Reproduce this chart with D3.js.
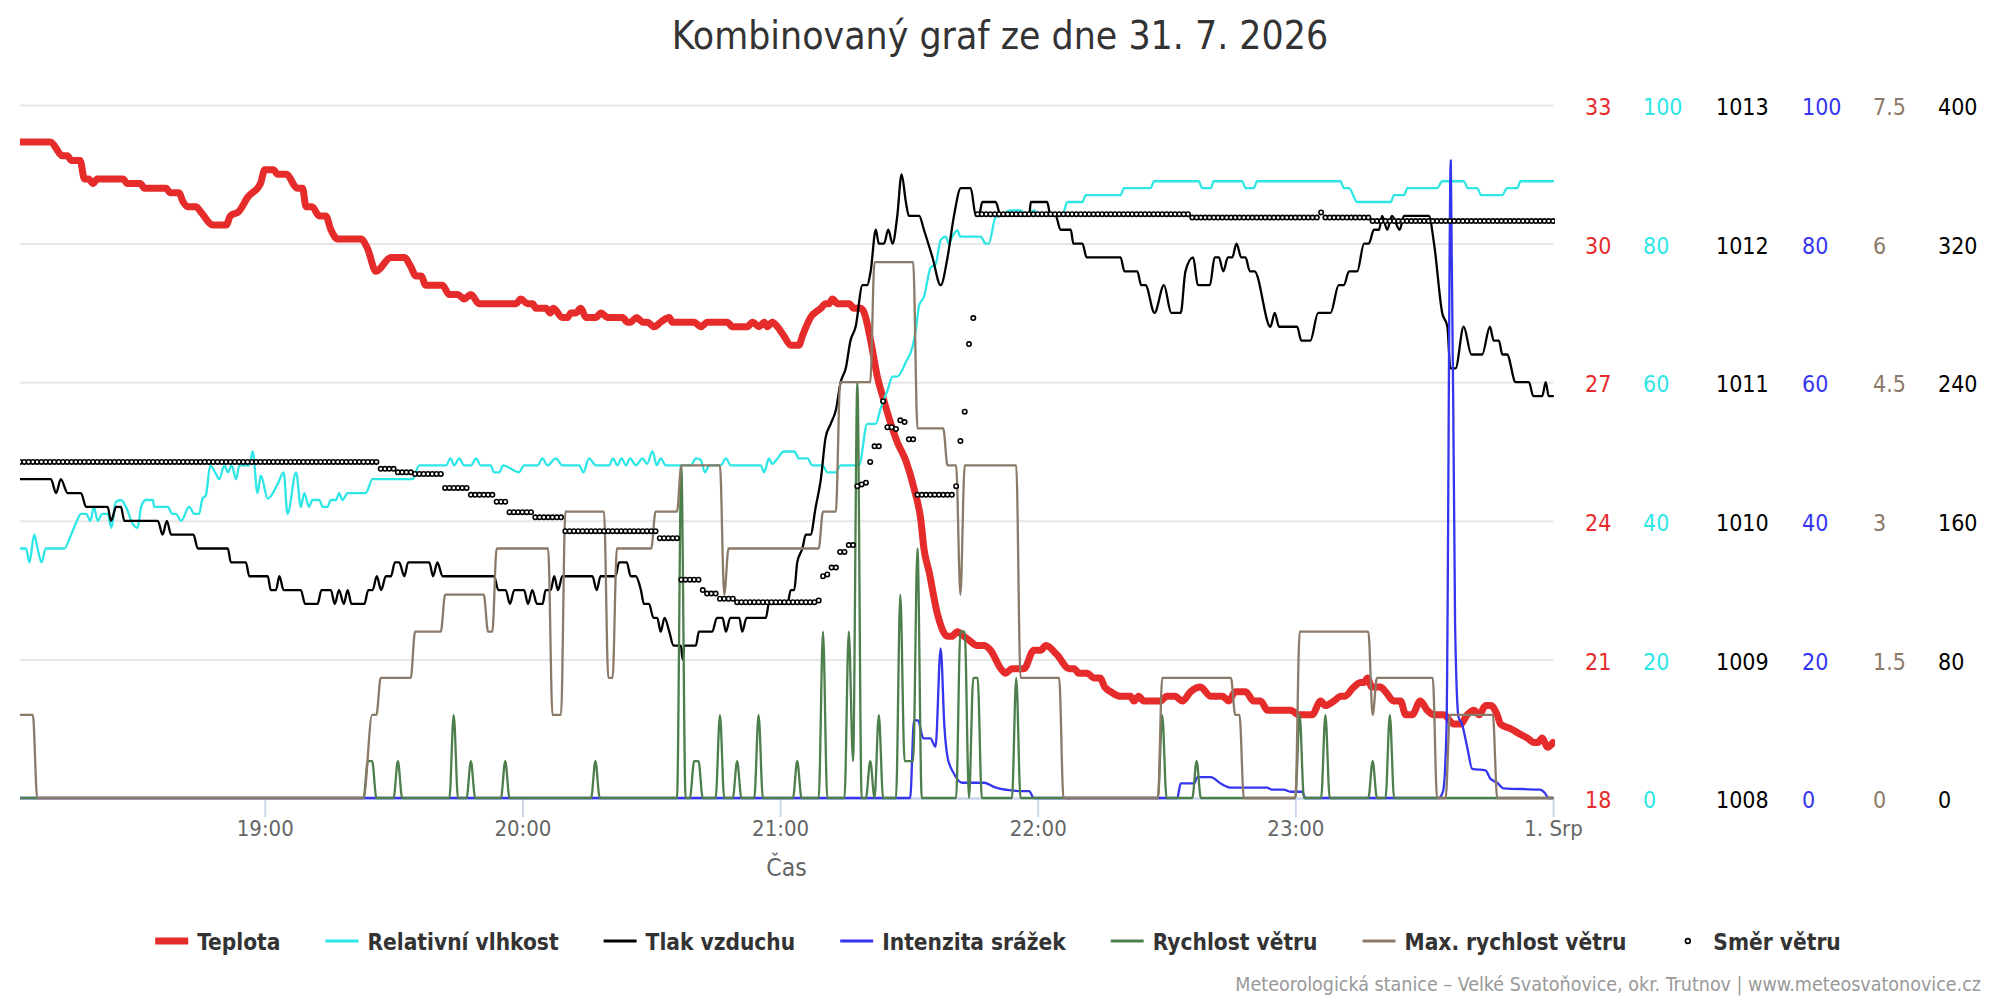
<!DOCTYPE html>
<html>
<head>
<meta charset="utf-8">
<script src="https://cdn.jsdelivr.net/npm/d3@7"></script>
<style>
html,body{margin:0;padding:0;background:#fff;overflow:hidden;}
svg{display:block;font-family:"DejaVu Sans Condensed","DejaVu Sans",sans-serif;font-stretch:condensed;}
</style>
</head>
<body>
<svg id="chart" width="2000" height="1000"></svg>
<script>
// ---------------- DATA (minutes after 18:00 on 31. 7. 2026) ----------------
const titleText = "Kombinovaný graf ze dne 31. 7. 2026";
const xAxisTitle = "Čas";
const creditText = "Meteorologická stanice – Velké Svatoňovice, okr. Trutnov | www.meteosvatonovice.cz";
const nextDayLabel = "1. Srp";
const seriesNames = ["Teplota","Relativní vlhkost","Tlak vzduchu","Intenzita srážek","Rychlost větru","Max. rychlost větru","Směr větru"];

const tempTicks = [18,21,24,27,30,33];
const humTicks = [0,20,40,60,80,100];
const presTicks = [1008,1009,1010,1011,1012,1013];
const rainTicks = [0,20,40,60,80,100];
const windTicks = [0,1.5,3,4.5,6,7.5];
const dirTicks = [0,80,160,240,320,400];

const temperature = [
[3,32.2],[10,32.2],[13,31.9],[14,31.9],[15,31.8],[17,31.8],[18,31.4],[19,31.4],[20,31.3],[21,31.4],[27,31.4],[28,31.3],[31,31.3],[32,31.2],[37,31.2],[38,31.1],[40,31.1],[41,30.9],[42,30.8],[44,30.8],[45,30.7],[48,30.4],[51,30.4],[52,30.6],[54,30.7],[56,31.0],[59,31.3],[60,31.6],[62,31.6],[63,31.5],[65,31.5],[67.6,31.2],[68.8,31.2],[69.6,30.8],[71,30.8],[72.7,30.6],[74.2,30.6],[75.4,30.3],[77,30.1],[82.4,30.1],[83.9,29.9],[85.9,29.4],[89.4,29.7],[92.5,29.7],[94,29.5],[95.2,29.3],[96.4,29.3],[97.5,29.1],[101.4,29.1],[102.9,28.9],[104.9,28.9],[106.4,28.8],[108,28.9],[109.9,28.7],
[118.5,28.7],[119.6,28.8],[121.2,28.7],[122.4,28.7],[123.1,28.6],[125.5,28.6],[126.5,28.5],[127.2,28.6],[129.3,28.4],[130.5,28.4],[131.3,28.5],[132.4,28.5],[133.6,28.6],[134.8,28.4],[137.1,28.4],[138.3,28.5],[139.8,28.4],[143.3,28.4],[144.5,28.3],[145.2,28.3],[146.6,28.4],[148,28.3],[149.1,28.3],[150.7,28.2],[152.2,28.3],[154.2,28.4],[154.9,28.3],[160,28.3],[161.5,28.2],[163.1,28.3],[167.7,28.3],[168.9,28.2],[172.4,28.2],[173.6,28.3],[175.1,28.2],[176.3,28.3],[177,28.2],[178.2,28.3],[179.4,28.2],[180.9,28.0],[182.5,27.8],[184.4,27.8],[185.2,28.0],[187.1,28.4],[189.5,28.6],[190.6,28.7],[191.4,28.7],[192.2,28.8],[193.4,28.7],[196.1,28.7],[197.2,28.6],[198.8,28.6],[199.6,28.5],
[201.1,27.9],[202.7,27.1],[204.2,26.6],[205.8,26.1],[207.3,25.7],[209.3,25.3],[211.2,24.7],[212.8,24.0],[213.5,23.4],[214.7,22.9],[216.6,22.0],[219,21.5],[220,21.5],[221.3,21.6],[222.8,21.5],[224.2,21.4],[225.9,21.3],[227.5,21.3],[229,21.2],[231.4,20.8],[232.5,20.7],[234,20.8],[236.8,20.8],[239.1,21.2],[240.7,21.2],[241.9,21.3],[244.5,21.1],[247.3,20.8],[248.5,20.8],[249.6,20.7],[251.6,20.7],[253,20.6],[254.5,20.6],[255.6,20.4],[257,20.3],[259.3,20.2],[261.6,20.2],[262.4,20.1],[263.5,20.2],[264.7,20.1],[268.6,20.1],[270,20.2],[272,20.2],[273.7,20.1],[275.6,20.3],[277.9,20.4],[280.3,20.2],[283,20.2],[284.5,20.1],[286,20.3],[288.4,20.3],[290.3,20.1],[291.9,20.1],[293.5,19.9],[298.9,19.9],[300.8,19.8],[303.9,19.8],[305.9,20.1],[307,20.0],[309,20.1],[310.6,20.2],[311.4,20.2],[313.6,20.4],[315.2,20.5],[316,20.5],[316.8,20.6],[317.8,20.4],[319.8,20.4],[321,20.3],[322.9,20.1],[324.5,20.1],[325.7,19.8],[327.2,19.8],[329.1,20.1],[330.7,19.9],[332.3,19.8],[334.6,19.8],[336.9,19.6],[338.5,19.6],[340,19.8],[341.6,19.9],[342.8,19.8],[344.3,20.0],[345.5,20.0],[347,19.8],[347.8,19.6],[350.1,19.5],[352,19.4],[354,19.3],[355.6,19.2],[356.4,19.2],[357.5,19.3],[358.7,19.1],[360,19.2]
];

const humidity = [
[3,36],[4.4,36],[5.2,34],[6.3,38],[7.1,36],[8,34],[9,36],[13.3,36],[14.9,38],[16,39.6],[17.2,41],[18.4,41],[19.4,40],[20.2,42],[21.1,40],[22.2,41],[23.4,41],[24.3,39],[25.3,42.7],[26.5,43],[27.7,42],[29.2,39.6],[30.4,39],[31.2,42],[32.3,43],[33.9,43],[34.3,42],[37.4,42],[38.5,41],[39.3,41],[40.5,40],[42.4,42],[43.6,41],[44.7,41],[45.5,43.2],[46.3,43.7],[47.3,48],[48.6,46.8],[49.4,46],[50.6,48],[51.4,47],[52.3,48],[53.3,46],[54.1,48],[55.2,48],[56.4,48],[57.2,50],[58.3,44],[59.1,46.5],[60.7,43.2],[63,45.3],[64.4,47],[65.3,41],[67.3,47],[68.4,42],[69.2,44],[70.3,42],[71.1,43],[72.7,43],[73.5,42],[74.6,42],[75.4,43],[76.6,43],[77.3,44],[78.1,43],[79.3,44],[83.5,44],[85.1,46],[94.4,46],[96,48],[102.2,48],[103.3,49],[104.1,48],[105.3,49],[106.4,48],[108,48],[109.2,49],[110.3,48],[112.6,48],[113.4,47],[114.6,47],
[115.5,48],[119.2,47],[120.4,48],[123.5,48],[124.7,49],[125.8,48],[127.8,49],[129.3,48],[133.2,48],[134.2,47],[135.5,49],[137.1,48],[140.2,48],[141.1,49],[142.1,48],[143.1,49],[144.1,48],[145.1,49],[146.4,48],[148,49],[149,48.2],[150.3,50],[151.3,48],[152.2,49],[153.4,48],[159.2,48],[160.4,49],[161.5,48.8],[162.5,47],[163.5,48],[166.2,48],[167.4,49],[168.5,48],[175.5,48],[176.3,47],[177.4,49],[178.2,48.2],[179.4,49],[180.9,50],[183.3,50],[184.4,49],[186.4,49],[187.5,48],[189.9,48],[191,47],[193,47],[194.1,48],[198.4,48],[200.3,54],[202.3,54],[203.4,56.2],[205,58.8],[206.2,60.8],[207.3,60.8],[209.3,62.9],[210.8,65],[211.6,67.5],[212.4,71.1],[213.5,72.3],[215.1,76.6],[216.2,77],[217.4,80.5],[218.6,81],[219.3,80],[220.1,81],[221.3,81.9],[222,81],[226.7,81],[227.9,80],[228.6,80],[230.2,83.8],
[231.4,84],[233.7,84.8],[236,84.8],[237.2,84],[239.1,84.8],[240.3,84],[245.7,84],[246.9,86],[250.4,86],[251.2,87],[259.3,87],[260.1,88],[266.3,88],[267.1,89],[277.5,89],[278.3,88],[280.3,88],[281,89],[287.6,89],[288.4,88],[290.3,88],[291.1,89],[310.5,89],[311.3,88],[312.5,88],[314.4,86],[322.2,86],[323,87],[325.3,87],[326.1,88],[333,88],[334.2,89],[339.2,89],[340.2,88],[342.3,88],[343.3,87],[348.2,87],[349.3,88],[351.7,88],[352.4,89],[360,89]
];

const pressure = [
[3,1010.3],[10.2,1010.3],[11.4,1010.2],[12.5,1010.3],[14.1,1010.2],[17.2,1010.2],[18.4,1010.1],[23.4,1010.1],[24.2,1010.0],[25.4,1010.1],[26.5,1010.1],[27.3,1010.0],[35.1,1010.0],[36.2,1009.9],[37.2,1010.0],[38.2,1009.9],[43.4,1009.9],[44.4,1009.8],[51.4,1009.8],[52.1,1009.7],[55.6,1009.7],[56.4,1009.6],[60.7,1009.6],[61.4,1009.5],[62.6,1009.5],[63.4,1009.6],[64.4,1009.5],[68.4,1009.5],[69.4,1009.4],[72.3,1009.4],[73.2,1009.5],[75.4,1009.5],[76.3,1009.4],[77.3,1009.5],[78.4,1009.4],[79.3,1009.5],[80.2,1009.4],[83.2,1009.4],[84.1,1009.5],[85.1,1009.5],[86.1,1009.6],[87.1,1009.5],[88.2,1009.6],[89.4,1009.6],[90.3,1009.7],[91.3,1009.7],[92.5,1009.6],[93.4,1009.7],[98.3,1009.7],[99.2,1009.6],[100.2,1009.7],[101.4,1009.6],[113.4,1009.6],[114.4,1009.5],
[116.1,1009.5],[117.1,1009.4],[118.1,1009.5],[120.4,1009.5],[121.3,1009.4],[122.3,1009.5],[123.4,1009.4],[124.7,1009.4],[125.4,1009.5],[126.6,1009.5],[127.4,1009.6],[128.3,1009.5],[129.3,1009.6],[136.3,1009.6],[137.3,1009.5],[138.2,1009.6],[141.7,1009.6],[142.5,1009.7],[144.3,1009.7],[145.2,1009.6],[146.4,1009.6],[147.6,1009.5],[148.3,1009.4],[149.5,1009.4],[150.5,1009.3],[151.4,1009.3],[152.2,1009.2],[153.1,1009.3],[154.2,1009.2],[155.2,1009.1],[156.9,1009.1],[157.3,1009.0],[157.7,1009.1],[160.4,1009.1],[161.1,1009.2],[164.2,1009.2],[165.3,1009.3],[166.6,1009.3],[167.4,1009.2],[168.4,1009.3],[170.5,1009.3],[171.2,1009.2],[172.2,1009.3],[176.7,1009.3],[177.4,1009.4],[181.7,1009.4],[182.5,1009.5],[183.3,1009.5],
[184,1009.7],[185.2,1009.8],[186,1009.9],[187.1,1009.9],[188.3,1010.1],[189.5,1010.3],[190.6,1010.6],[191.8,1010.7],[193,1010.8],[194.1,1011.0],[195.3,1011.1],[196.4,1011.3],[197.6,1011.4],[199.2,1011.7],[200.3,1011.7],[201.1,1011.8],[202.3,1012.1],[203,1012.0],[204.2,1012.0],[205.2,1012.1],[206.2,1012.0],[207.3,1012.2],[208.3,1012.5],[209.3,1012.3],[210,1012.2],[212.4,1012.2],[213.5,1012.1],[215.5,1011.9],[217.4,1011.7],[219,1011.9],[220.5,1012.2],[222.1,1012.4],[224.4,1012.4],[225.6,1012.2],[226.3,1012.2],[227.1,1012.3],[230.2,1012.3],
[231.4,1012.2],[238,1012.2],[238.4,1012.3],[242.2,1012.3],[243,1012.2],[244.2,1012.2],[245.3,1012.1],[247.7,1012.1],[248.3,1012.0],[250.4,1012.0],[251.4,1011.9],[259.3,1011.9],[260.2,1011.8],[263.2,1011.8],[264.1,1011.7],[265.1,1011.7],[267.2,1011.5],[269.4,1011.7],[271.1,1011.5],[273.3,1011.5],[274.4,1011.8],[276.2,1011.9],[277.3,1011.7],[280.1,1011.7],[281.2,1011.9],[282.2,1011.9],[283.2,1011.8],[284.3,1011.9],[285.3,1011.9],[286.3,1012.0],[287.4,1011.9],[288.4,1011.9],[289.4,1011.8],[290.5,1011.8],[294.2,1011.4],[295.2,1011.5],[296.2,1011.4],[300.4,1011.4],[301.4,1011.3],[303.5,1011.3],[305.3,1011.5],[308.2,1011.5],[310.1,1011.7],[311.3,1011.7],[312.5,1011.8],[314.4,1011.8],[316,1012.0],[317.1,1012.0],[318.3,1012.1],[319.5,1012.1],[320.2,1012.2],[321.4,1012.1],[322.5,1012.2],[324.3,1012.1],[325.3,1012.2],[331.1,1012.2],[332.3,1012.0],[334.2,1011.5],[335.4,1011.4],[336.1,1011.1],[337.3,1011.1],[339.2,1011.4],[341,1011.2],[343.5,1011.2],[345.3,1011.4],[346.2,1011.3],[347.4,1011.3],[348.2,1011.2],[349.3,1011.2],[351.3,1011.0],[354.4,1011.0],[355.4,1010.9],[357.5,1010.9],[358.3,1011.0],[359,1010.9],[360,1010.9]
];

const rainRate = [
[3,0],[210.3,0],[211.2,11.2],[212.1,11.2],[213.4,8.6],[215,8.6],[216.2,7.4],[217.4,21.6],[218.3,10],[219,5.9],[220.5,3.5],[222.4,2.2],[227.5,2.2],[229.8,1.6],[231.4,1.3],[234,1.1],[236,1.0],[238,1.0],[239.1,0],[272.5,0],[273.3,2.1],[276.4,2.1],[277.2,3.0],[280.3,3.0],[282.6,2.1],[284.9,1.5],[293.4,1.5],[294.6,1.2],[297.3,1.2],[298.9,0.9],[301.6,0.9],[302.3,0],[333.4,0],[334.4,1],[335.2,10],[336.2,92],[337.2,25],[338,11.7],[338.8,10.7],[340,7.4],[341.2,4.2],[344.3,4.0],[345.4,2.8],[347,2.2],[348.5,1.4],[357,1.2],[358,0.8],[359,0],[360,0]
];

const windSpeed = [
[3,0],[83,0],[84,0.4],[85,0.4],[86,0],[90,0],[91,0.4],[92,0],[103,0],[104,0.9],[105,0],[107,0],[108,0.4],[109,0],[115,0],[116,0.4],[117,0],[136,0],[137,0.4],[138,0],[156,0],[157,3.6],[158,0],[159,0],[160,0.4],[161,0.4],[162,0],[165,0],[166,0.9],[167,0],[169,0],[170,0.4],[171,0],[174,0],[175,0.9],[176,0],[183,0],[184,0.4],[185,0],[189,0],[190,1.8],[191,0],[195,0],[196,1.8],[197,0.4],[198,4.5],[199,0],[200,0],[201,0.4],[202,0],[203,0.9],[204,0],[207,0],[208,2.2],[209,0.4],[211,0.4],[212,2.7],[213,0],[221,0],[222,1.8],[223,1.8],[224,0],[225,1.3],[226,1.3],[227,0],[234,0],[235,1.3],[236,0],[268,0],[269,0.9],[270,0],[276,0],[277,0.4],[278,0],[300,0],[301,0.9],[302,0],[306,0],[307,0.9],[308,0],[317,0],[318,0.4],[319,0],[321,0],[322,0.9],[323,0],[360,0]
];

const windGust = [
[3,0.9],[6,0.9],[7,0],[83,0],[85,0.9],[86,0.9],[87,1.3],[94,1.3],[95,1.8],[101,1.8],[102,2.2],[111,2.2],[112,1.8],[113,1.8],[114,2.7],[126,2.7],[127,0.9],[129,0.9],[130,3.1],[139,3.1],[140,1.3],[141,1.3],[142,2.7],[150,2.7],[151,3.1],[156,3.1],[157,3.6],[166,3.6],[167,2.2],[168,2.7],[189,2.7],[190,3.1],[193,3.1],[194,4.5],[201,4.5],[202,5.8],[211,5.8],[212,4.0],[218,4.0],[219,3.6],[221,3.6],[222,2.2],[223,3.6],[235,3.6],[236,1.3],[245,1.3],[246,0],[268,0],[269,1.3],[285,1.3],[286,0.9],[287,0.9],[288,0],[300,0],[301,1.8],[317,1.8],[318,0.9],[319,1.3],[332,1.3],[333,0],[335,0],[336,0.9],[346,0.9],[347,0],[360,0]
];

// wind direction, one value per minute starting at 18:03
const directionStart = 3;
const direction = [
194,194,194,194,194,194,194,194,194,194,
194,194,194,194,194,194,194,194,194,194,
194,194,194,194,194,194,194,194,194,194,
194,194,194,194,194,194,194,194,194,194,
194,194,194,194,194,194,194,194,194,194,
194,194,194,194,194,194,194,194,194,194,
194,194,194,194,194,194,194,194,194,194,
194,194,194,194,194,194,194,194,194,194,
194,194,194,194,
190,190,190,190,188,188,188,188,187,187,187,187,187,187,187,
179,179,179,179,179,179,175,175,175,175,175,175,171,171,171,
165,165,165,165,165,165,162,162,162,162,162,162,162,
154,154,154,154,154,154,154,154,154,154,
154,154,154,154,154,154,154,154,154,154,
154,154,
150,150,150,150,150,126,126,126,126,126,120,118,118,118,115,115,115,115,
113,113,113,113,113,113,113,113,113,113,
113,113,113,113,113,113,113,113,113,
114,128,129,133,133,142,142,146,146,180,181,182,194,203,203,229,214,214,213,218,217,207,207,
175,175,175,175,175,175,175,175,175,180,206,223,262,277,
337,337,337,337,337,337,337,337,337,337,
337,337,337,337,337,337,337,337,337,337,
337,337,337,337,337,337,337,337,337,337,
337,337,337,337,337,337,337,337,337,337,
337,337,337,337,337,337,337,337,337,337,
335,335,335,335,335,335,335,335,335,335,
335,335,335,335,335,335,335,335,335,335,
335,335,335,335,335,335,335,335,335,335,
338,
335,335,335,335,335,335,335,335,335,335,335,
333,333,333,333,333,333,333,333,333,333,
333,333,333,333,333,333,333,333,333,333,
333,333,333,333,333,333,333,333,333,333,
333,333,333,333,333,333,333,333,333,333,
333,333,333
];

// ---------------- LAYOUT / STYLE ----------------
const colors = {temp:"#e62b2b", hum:"#2ee6e6", pres:"#000000", rain:"#3535ef", wind:"#4d7f4d", gust:"#8c7a69", dir:"#000000"};
const L = {left:20, right:1553, top:105, bottom:798};
const svg = d3.select("#chart");
const base = new Date(2026, 6, 31, 18, 0, 0);
const toDate = m => new Date(base.getTime() + m * 60000);

const x = d3.scaleTime().domain([toDate(3), toDate(360)]).range([L.left, L.right]);
const yTemp = d3.scaleLinear().domain([18,33]).range([L.bottom, L.top]);
const yHum = d3.scaleLinear().domain([0,100]).range([L.bottom, L.top]);
const yPres = d3.scaleLinear().domain([1008,1013]).range([L.bottom, L.top]);
const yRain = d3.scaleLinear().domain([0,100]).range([L.bottom, L.top]);
const yWind = d3.scaleLinear().domain([0,7.5]).range([L.bottom, L.top]);
const yDir = d3.scaleLinear().domain([0,400]).range([L.bottom, L.top]);

// Title
svg.append("text").attr("x",1000).attr("y",48.5).attr("text-anchor","middle")
  .attr("font-size",38.8).attr("fill","#333333").text(titleText);

// gridlines
const grid = svg.append("g").attr("transform",`translate(${L.left},0)`)
  .call(d3.axisRight(yTemp).tickValues(tempTicks).tickSize(L.right-L.left).tickFormat(""));
grid.select(".domain").remove();
grid.selectAll("line").attr("stroke","#e6e6e6").attr("stroke-width",2);

// x axis
const xAxis = svg.append("g").attr("transform",`translate(0,${L.bottom})`)
  .call(d3.axisBottom(x).ticks(d3.timeHour.every(1)).tickSizeInner(19).tickSizeOuter(0).tickPadding(3)
    .tickFormat(d => d.getHours() === 0 ? nextDayLabel : d3.timeFormat("%H:%M")(d)));
xAxis.attr("font-family",null).attr("font-size",null);
xAxis.select(".domain").attr("stroke","#ccd6eb").attr("stroke-width",2.5);
xAxis.selectAll(".tick line").attr("stroke","#ccd6eb").attr("stroke-width",2);
xAxis.selectAll(".tick text").attr("fill","#666666").attr("font-size",22);
svg.append("text").attr("x",(L.left+L.right)/2).attr("y",876).attr("text-anchor","middle")
  .attr("font-size",24.5).attr("fill","#666666").text(xAxisTitle);

// right axes
const rightAxes = [
  {scale:yTemp, ticks:tempTicks, color:colors.temp, x:1585},
  {scale:yHum, ticks:humTicks, color:colors.hum, x:1643},
  {scale:yPres, ticks:presTicks, color:"#000000", x:1716},
  {scale:yRain, ticks:rainTicks, color:colors.rain, x:1802},
  {scale:yWind, ticks:windTicks, color:colors.gust, x:1873},
  {scale:yDir, ticks:dirTicks, color:"#000000", x:1938}
];
rightAxes.forEach(a => {
  const g = svg.append("g").attr("transform",`translate(${a.x},0)`)
    .call(d3.axisRight(a.scale).tickValues(a.ticks).tickSize(0).tickPadding(0).tickFormat(d => String(d)));
  g.attr("font-family",null).attr("font-size",null);
  g.select(".domain").remove();
  g.selectAll(".tick line").remove();
  g.selectAll(".tick text").attr("fill",a.color).attr("font-size",23).attr("dy","0.42em");
});

// clip
svg.append("defs").append("clipPath").attr("id","plotclip").append("rect")
  .attr("x",L.left).attr("y",L.top-12).attr("width",L.right-L.left+2).attr("height",L.bottom-L.top+20);
const plot = svg.append("g").attr("clip-path","url(#plotclip)");

function drawLine(data, y, color, width) {
  const line = d3.line().x(d => x(toDate(d[0]))).y(d => y(d[1])).curve(d3.curveMonotoneX);
  plot.append("path").datum(data).attr("d",line).attr("fill","none").attr("stroke",color)
    .attr("stroke-width",width).attr("stroke-linejoin","round").attr("stroke-linecap","round");
}
drawLine(temperature, yTemp, colors.temp, 7);
drawLine(humidity, yHum, colors.hum, 2.3);
drawLine(pressure, yPres, colors.pres, 2.3);
drawLine(rainRate, yRain, colors.rain, 2.3);
drawLine(windSpeed, yWind, colors.wind, 2.3);
drawLine(windGust, yWind, colors.gust, 2.3);

plot.append("g").selectAll("circle").data(direction).join("circle")
  .attr("cx",(d,i) => x(toDate(directionStart + i))).attr("cy",d => yDir(d))
  .attr("r",2.2).attr("fill","#ffffff").attr("stroke",colors.dir).attr("stroke-width",1.6);

// legend
const legendStyle = [
  {color:colors.temp, w:7, type:"line"},
  {color:colors.hum, w:3, type:"line"},
  {color:colors.pres, w:3, type:"line"},
  {color:colors.rain, w:3, type:"line"},
  {color:colors.wind, w:3, type:"line"},
  {color:colors.gust, w:3, type:"line"},
  {color:colors.dir, w:1.6, type:"dot"}
];
const lg = svg.append("g");
const symW = 33, symGap = 9, itemGap = 45, legY = 941;
const items = seriesNames.map((name,i) => {
  const g = lg.append("g");
  const t = g.append("text").attr("x",symW+symGap).attr("y",legY+8.5).attr("font-size",22.5)
    .attr("font-weight","bold").attr("fill","#333333").text(name);
  return {g, t, w: symW + symGap + t.node().getComputedTextLength(), st: legendStyle[i]};
});
const total = d3.sum(items, d => d.w) + itemGap*(items.length-1);
let cx = 998 - total/2;
items.forEach(it => {
  it.g.attr("transform",`translate(${cx},0)`);
  if (it.st.type === "line") {
    it.g.append("line").attr("x1",0).attr("x2",symW).attr("y1",legY).attr("y2",legY)
      .attr("stroke",it.st.color).attr("stroke-width",it.st.w);
  } else {
    it.g.append("circle").attr("cx",symW/2).attr("cy",legY).attr("r",2.4)
      .attr("fill","#fff").attr("stroke",it.st.color).attr("stroke-width",it.st.w);
  }
  cx += it.w + itemGap;
});

// credits
svg.append("text").attr("x",1981).attr("y",991).attr("text-anchor","end")
  .attr("font-size",19.5).attr("fill","#999999").text(creditText);
</script>
</body>
</html>
